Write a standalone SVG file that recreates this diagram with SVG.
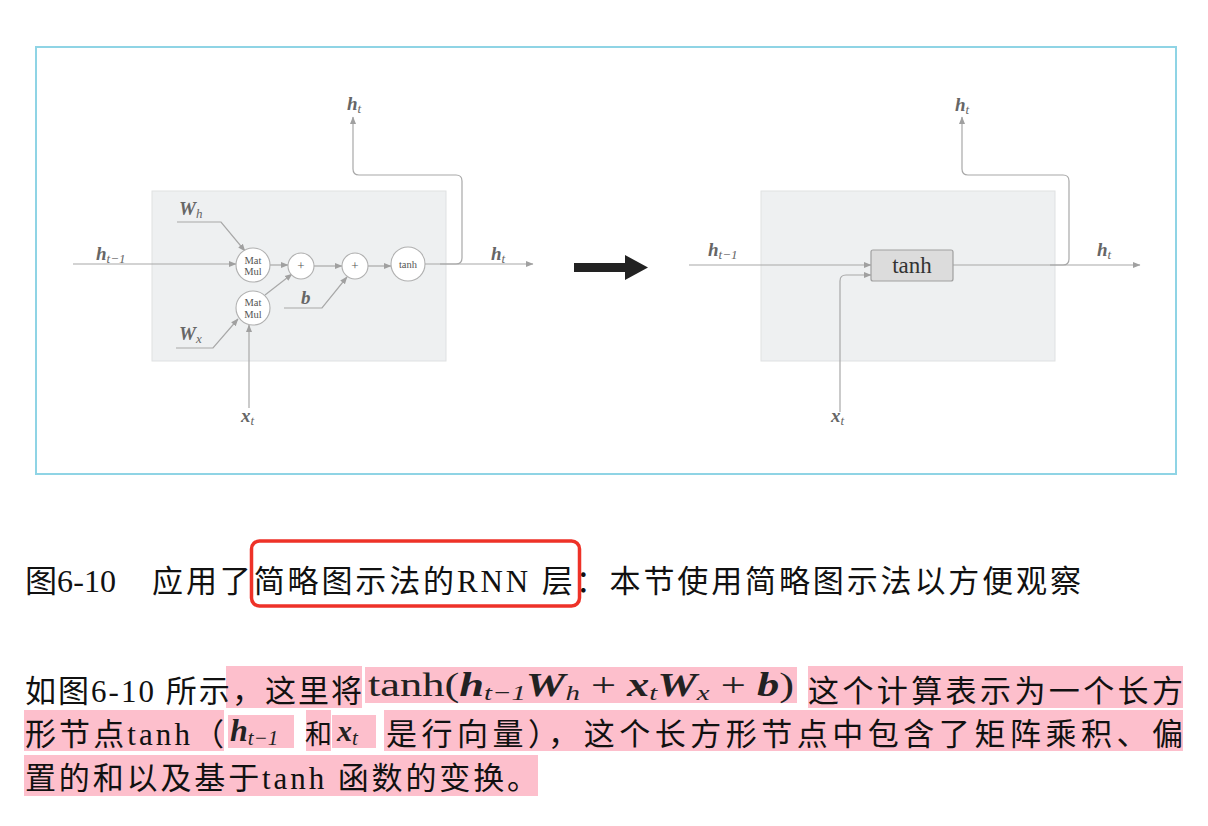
<svg xmlns="http://www.w3.org/2000/svg" width="1208" height="826" viewBox="0 0 1208 826">
<defs>
<marker id="ah" markerUnits="userSpaceOnUse" markerWidth="8" markerHeight="8" viewBox="0 0 8 8" refX="7" refY="4" orient="auto">
<path d="M0 1 L7.5 4 L0 7 Z" fill="#a0a0a0"/>
</marker>
</defs>
<style>
.ln{fill:none;stroke:#a8a8a8;stroke-width:1.2;marker-end:url(#ah)}
.panel{fill:#eef0f1;stroke:#dfe1e2;stroke-width:1}
.circ{fill:#fff;stroke:#b0b0b0;stroke-width:1.1}
.ct{font-family:"Liberation Serif",serif;font-size:10.5px;fill:#555;text-anchor:middle}
.lab{font-family:"Liberation Serif",serif;fill:#666;font-style:italic}
.b{font-weight:bold}
.sub{font-weight:normal}
.cn{font-family:"Liberation Serif","Noto Sans CJK SC",serif;font-size:31px;fill:#111}
.fm{font-family:"Liberation Serif",serif;font-size:30px;fill:#222}
.hl{fill:#fdbfcc}
</style>
<rect x="0" y="0" width="1208" height="826" fill="#fff"/>
<rect x="36" y="47" width="1140" height="427" fill="#fff" stroke="#8fd4e5" stroke-width="2"/>

<rect class="panel" x="152" y="191" width="294" height="170"/>
<rect class="panel" x="761" y="191" width="294" height="170"/>

<g id="connectors">
<path class="ln" d="M73 264 H236"/>
<path class="ln" d="M177 222 H221 L245 251"/>
<path class="ln" d="M176 348 H213 L238 319"/>
<path class="ln" d="M249 408 V325"/>
<path class="ln" d="M270 265 H288"/>
<path class="ln" d="M265 295 L292 274"/>
<path class="ln" d="M314 266 H342"/>
<path class="ln" d="M284 308 H322 L347 277"/>
<path class="ln" d="M368 266 H391"/>
<path class="ln" d="M425 264 H533"/>
<path class="ln" d="M440 264 H456 Q462 264 462 258 V181 Q462 175 456 175 H359 Q353 175 353 169 V117"/>
<path class="ln" d="M689 265 H871"/>
<path class="ln" d="M840 412 V281 Q840 275 846 275 H871"/>
<path class="ln" d="M953 265 H1140"/>
<path class="ln" d="M1050 265 H1063 Q1069 265 1069 259 V181 Q1069 175 1063 175 H968 Q962 175 962 169 V117"/>
</g>

<g id="matmul1"><circle class="circ" cx="253" cy="265" r="17"/><text class="ct" x="253" y="263.5">Mat</text><text class="ct" x="253" y="275">Mul</text></g>
<g id="matmul2"><circle class="circ" cx="253" cy="308" r="17"/><text class="ct" x="253" y="306">Mat</text><text class="ct" x="253" y="317.5">Mul</text></g>
<g id="plus1"><circle class="circ" cx="301" cy="266" r="13"/><text class="ct" x="301" y="270" style="font-size:13px">+</text></g>
<g id="plus2"><circle class="circ" cx="355" cy="266" r="13"/><text class="ct" x="355" y="270" style="font-size:13px">+</text></g>
<g id="tanh1"><circle class="circ" cx="408" cy="264" r="17"/><text class="ct" x="408" y="267.5">tanh</text></g>
<g id="tanh2"><rect x="871" y="250" width="82" height="31" rx="2" fill="#dcdcdc" stroke="#a0a0a0" stroke-width="1.2"/><text x="912" y="273" text-anchor="middle" style="font-family:'Liberation Serif',serif;font-size:23px;fill:#333">tanh</text></g>

<g id="labels">
<text class="lab" x="96" y="260" style="font-size:19px"><tspan class="b">h</tspan><tspan class="sub" dy="3" style="font-size:13px">t−1</tspan></text>
<text class="lab" x="179" y="215" style="font-size:19px"><tspan class="b">W</tspan><tspan class="sub" dy="3" style="font-size:13px">h</tspan></text>
<text class="lab" x="179" y="340" style="font-size:19px"><tspan class="b">W</tspan><tspan class="sub" dy="3" style="font-size:13px">x</tspan></text>
<text class="lab" x="301" y="304" style="font-size:19px"><tspan class="b">b</tspan></text>
<text class="lab" x="491" y="260" style="font-size:19px"><tspan class="b">h</tspan><tspan class="sub" dy="3" style="font-size:13px">t</tspan></text>
<text class="lab" x="347" y="110" style="font-size:19px"><tspan class="b">h</tspan><tspan class="sub" dy="3" style="font-size:13px">t</tspan></text>
<text class="lab" x="241" y="422" style="font-size:19px"><tspan class="b">x</tspan><tspan class="sub" dy="3" style="font-size:13px">t</tspan></text>
<text class="lab" x="708" y="256" style="font-size:19px"><tspan class="b">h</tspan><tspan class="sub" dy="3" style="font-size:13px">t−1</tspan></text>
<text class="lab" x="1097" y="256" style="font-size:19px"><tspan class="b">h</tspan><tspan class="sub" dy="3" style="font-size:13px">t</tspan></text>
<text class="lab" x="955" y="111" style="font-size:19px"><tspan class="b">h</tspan><tspan class="sub" dy="3" style="font-size:13px">t</tspan></text>
<text class="lab" x="831" y="422" style="font-size:19px"><tspan class="b">x</tspan><tspan class="sub" dy="3" style="font-size:13px">t</tspan></text>
</g>

<g id="bigarrow"><path d="M574 263 H625 V255 L648 267.5 L625 280 V272 H574 Z" fill="#222"/></g>

<g id="caption">
<text class="cn" x="25" y="592" textLength="91" lengthAdjust="spacingAndGlyphs">图6-10</text>
<text class="cn" x="152" y="592" textLength="929" lengthAdjust="spacing">应用了简略图示法的RNN 层：本节使用简略图示法以方便观察</text>
<rect x="251.5" y="541" width="328" height="65" rx="8" fill="none" stroke="#ee3228" stroke-width="3.5"/>
</g>

<g id="highlights">
<rect class="hl" x="226" y="666" width="136" height="42"/>
<rect class="hl" x="365" y="667" width="432" height="36"/>
<rect class="hl" x="808" y="666" width="375" height="42"/>
<rect class="hl" x="24" y="710" width="200" height="41"/>
<rect class="hl" x="228" y="715" width="66" height="33"/>
<rect class="hl" x="306" y="710" width="25" height="41"/>
<rect class="hl" x="332" y="715" width="44" height="33"/>
<rect class="hl" x="384" y="710" width="799" height="41"/>
<rect class="hl" x="24" y="755" width="514" height="41"/>
</g>

<g id="paragraph">
<text class="cn" x="25" y="702" textLength="337" lengthAdjust="spacing">如图6-10 所示，这里将</text>
<text class="fm" x="368" y="696" style="font-size:34px" textLength="426" lengthAdjust="spacingAndGlyphs">tanh(<tspan font-weight="bold" font-style="italic">h</tspan><tspan font-size="22" font-style="italic" dy="4">t−1</tspan><tspan font-weight="bold" font-style="italic" dy="-4">W</tspan><tspan font-size="22" font-style="italic" dy="4">h</tspan><tspan dy="-4"> + </tspan><tspan font-weight="bold" font-style="italic">x</tspan><tspan font-size="22" font-style="italic" dy="4">t</tspan><tspan font-weight="bold" font-style="italic" dy="-4">W</tspan><tspan font-size="22" font-style="italic" dy="4">x</tspan><tspan dy="-4"> + </tspan><tspan font-weight="bold" font-style="italic">b</tspan>)</text>
<text class="cn" x="808" y="702" textLength="375" lengthAdjust="spacing">这个计算表示为一个长方</text>
<text class="cn" x="25" y="745" textLength="199" lengthAdjust="spacing">形节点tanh（</text>
<text class="fm" x="230" y="741"><tspan font-weight="bold" font-style="italic" font-size="32">h</tspan><tspan font-size="21" font-style="italic" dy="4">t−1</tspan></text>
<text class="cn" x="305" y="744" style="font-size:27px">和</text>
<text class="fm" x="337" y="741"><tspan font-weight="bold" font-style="italic" font-size="30">x</tspan><tspan font-size="21" font-style="italic" dy="4">t</tspan></text>
<text class="cn" x="386" y="745" textLength="797" lengthAdjust="spacing">是行向量），这个长方形节点中包含了矩阵乘积、偏</text>
<text class="cn" x="25" y="789" textLength="513" lengthAdjust="spacing">置的和以及基于tanh 函数的变换。</text>
</g>
</svg>
